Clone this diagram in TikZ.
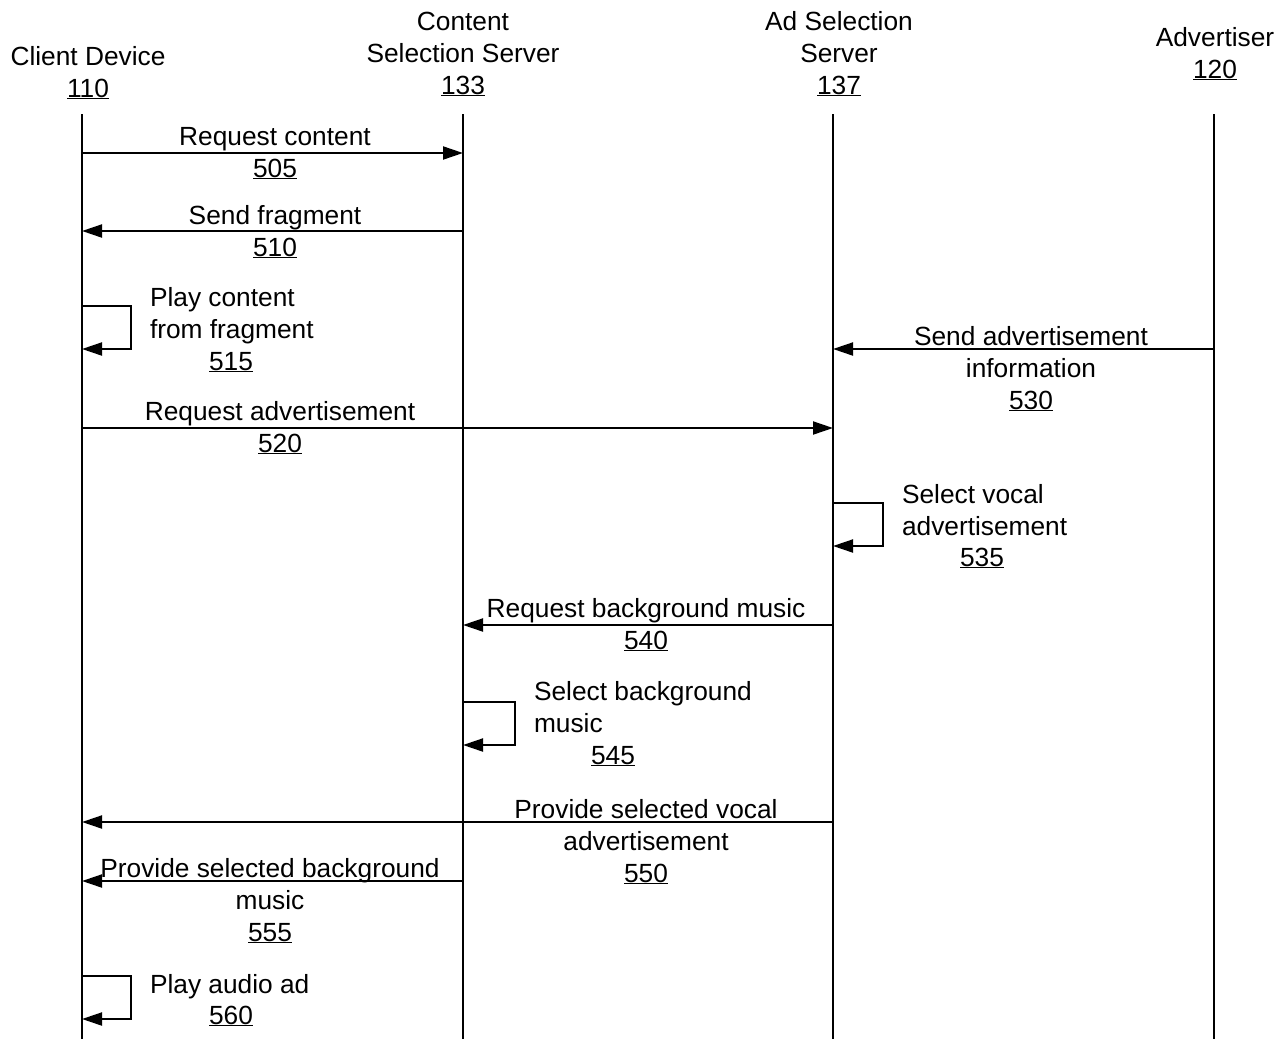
\documentclass[tikz,border=0pt]{standalone}
\usepackage{fontspec}
\setmainfont{Liberation Sans}
\usetikzlibrary{arrows.meta}
\begin{document}
\begin{tikzpicture}[x=1pt,y=-1pt,
  every node/.style={inner sep=0pt,outer sep=0pt,font=\fontsize{26.3}{31.6}\selectfont},
  hdr/.style={anchor=base,align=center},
  lbl/.style={anchor=base,align=center},
  lbll/.style={anchor=base west,align=left},
  life/.style={line width=1.3pt},
  msg/.style={line width=2pt,-{Triangle[length=20pt,width=13pt]}},
  loopmsg/.style={line width=2pt,-{Triangle[length=20pt,width=13pt]}}]
\useasboundingbox (0,0) rectangle (1279,1039);
% headers (base = last line)
\node[hdr] (hcli) at (88,97) {Client Device\\\underline{110}};
\node[hdr] (hcss) at (463,94) {Content\\Selection Server\\\underline{133}};
\node[hdr] (hass) at (839,94) {Ad Selection\\Server\\\underline{137}};
\node[hdr] (hadv) at (1215,78) {Advertiser\\\underline{120}};
% lifelines
\coordinate (L1) at (82,114);
\coordinate (L2) at (463,114);
\coordinate (L3) at (833,114);
\coordinate (L4) at (1214,114);
\coordinate (B1) at (82,1039);
\coordinate (B2) at (463,1039);
\coordinate (B3) at (833,1039);
\coordinate (B4) at (1214,1039);
\draw[life] (L1) -- (B1);
\draw[life] (L2) -- (B2);
\draw[life] (L3) -- (B3);
\draw[life] (L4) -- (B4);
% 505
\draw[msg] (L1 |- 0,153) -- (L2 |- 0,153);
\node[lbl] (t505) at (275,177) {Request content\\\underline{505}};
% 510
\draw[msg] (L2 |- 0,231) -- (L1 |- 0,231);
\node[lbl] (t510) at (275,256) {Send fragment\\\underline{510}};
% 515
\draw[loopmsg] (L1 |- 0,306) -- (131,306) -- (131,349) -- (L1 |- 0,349);
\node[lbll] (t515) at (150,338) {Play content\\from fragment};
\node[lbl] (n515) at (231,370) {\underline{515}};
% 530
\draw[msg] (L4 |- 0,349) -- (L3 |- 0,349);
\node[lbl] (t530) at (1031,409) {Send advertisement\\information\\\underline{530}};
% 520
\draw[msg] (L1 |- 0,428) -- (L3 |- 0,428);
\node[lbl] (t520) at (280,452) {Request advertisement\\\underline{520}};
% 535
\draw[loopmsg] (L3 |- 0,503) -- (883,503) -- (883,546) -- (L3 |- 0,546);
\node[lbll] (t535) at (902,535) {Select vocal\\advertisement};
\node[lbl] (n535) at (982,566) {\underline{535}};
% 540
\draw[msg] (L3 |- 0,625) -- (L2 |- 0,625);
\node[lbl] (t540) at (646,649) {Request background music\\\underline{540}};
% 545
\draw[loopmsg] (L2 |- 0,702) -- (515,702) -- (515,745) -- (L2 |- 0,745);
\node[lbll] (t545) at (534,732) {Select background\\music};
\node[lbl] (n545) at (613,764) {\underline{545}};
% 550
\draw[msg] (L3 |- 0,822) -- (L1 |- 0,822);
\node[lbl] (t550) at (646,882) {Provide selected vocal\\advertisement\\\underline{550}};
% 555
\draw[msg] (L2 |- 0,881) -- (L1 |- 0,881);
\node[lbl] (t555) at (270,941) {Provide selected background\\music\\\underline{555}};
% 560
\draw[loopmsg] (L1 |- 0,976) -- (131,976) -- (131,1019) -- (L1 |- 0,1019);
\node[lbll] (t560) at (150,993) {Play audio ad};
\node[lbl] (n560) at (231,1024) {\underline{560}};
\end{tikzpicture}
\end{document}
